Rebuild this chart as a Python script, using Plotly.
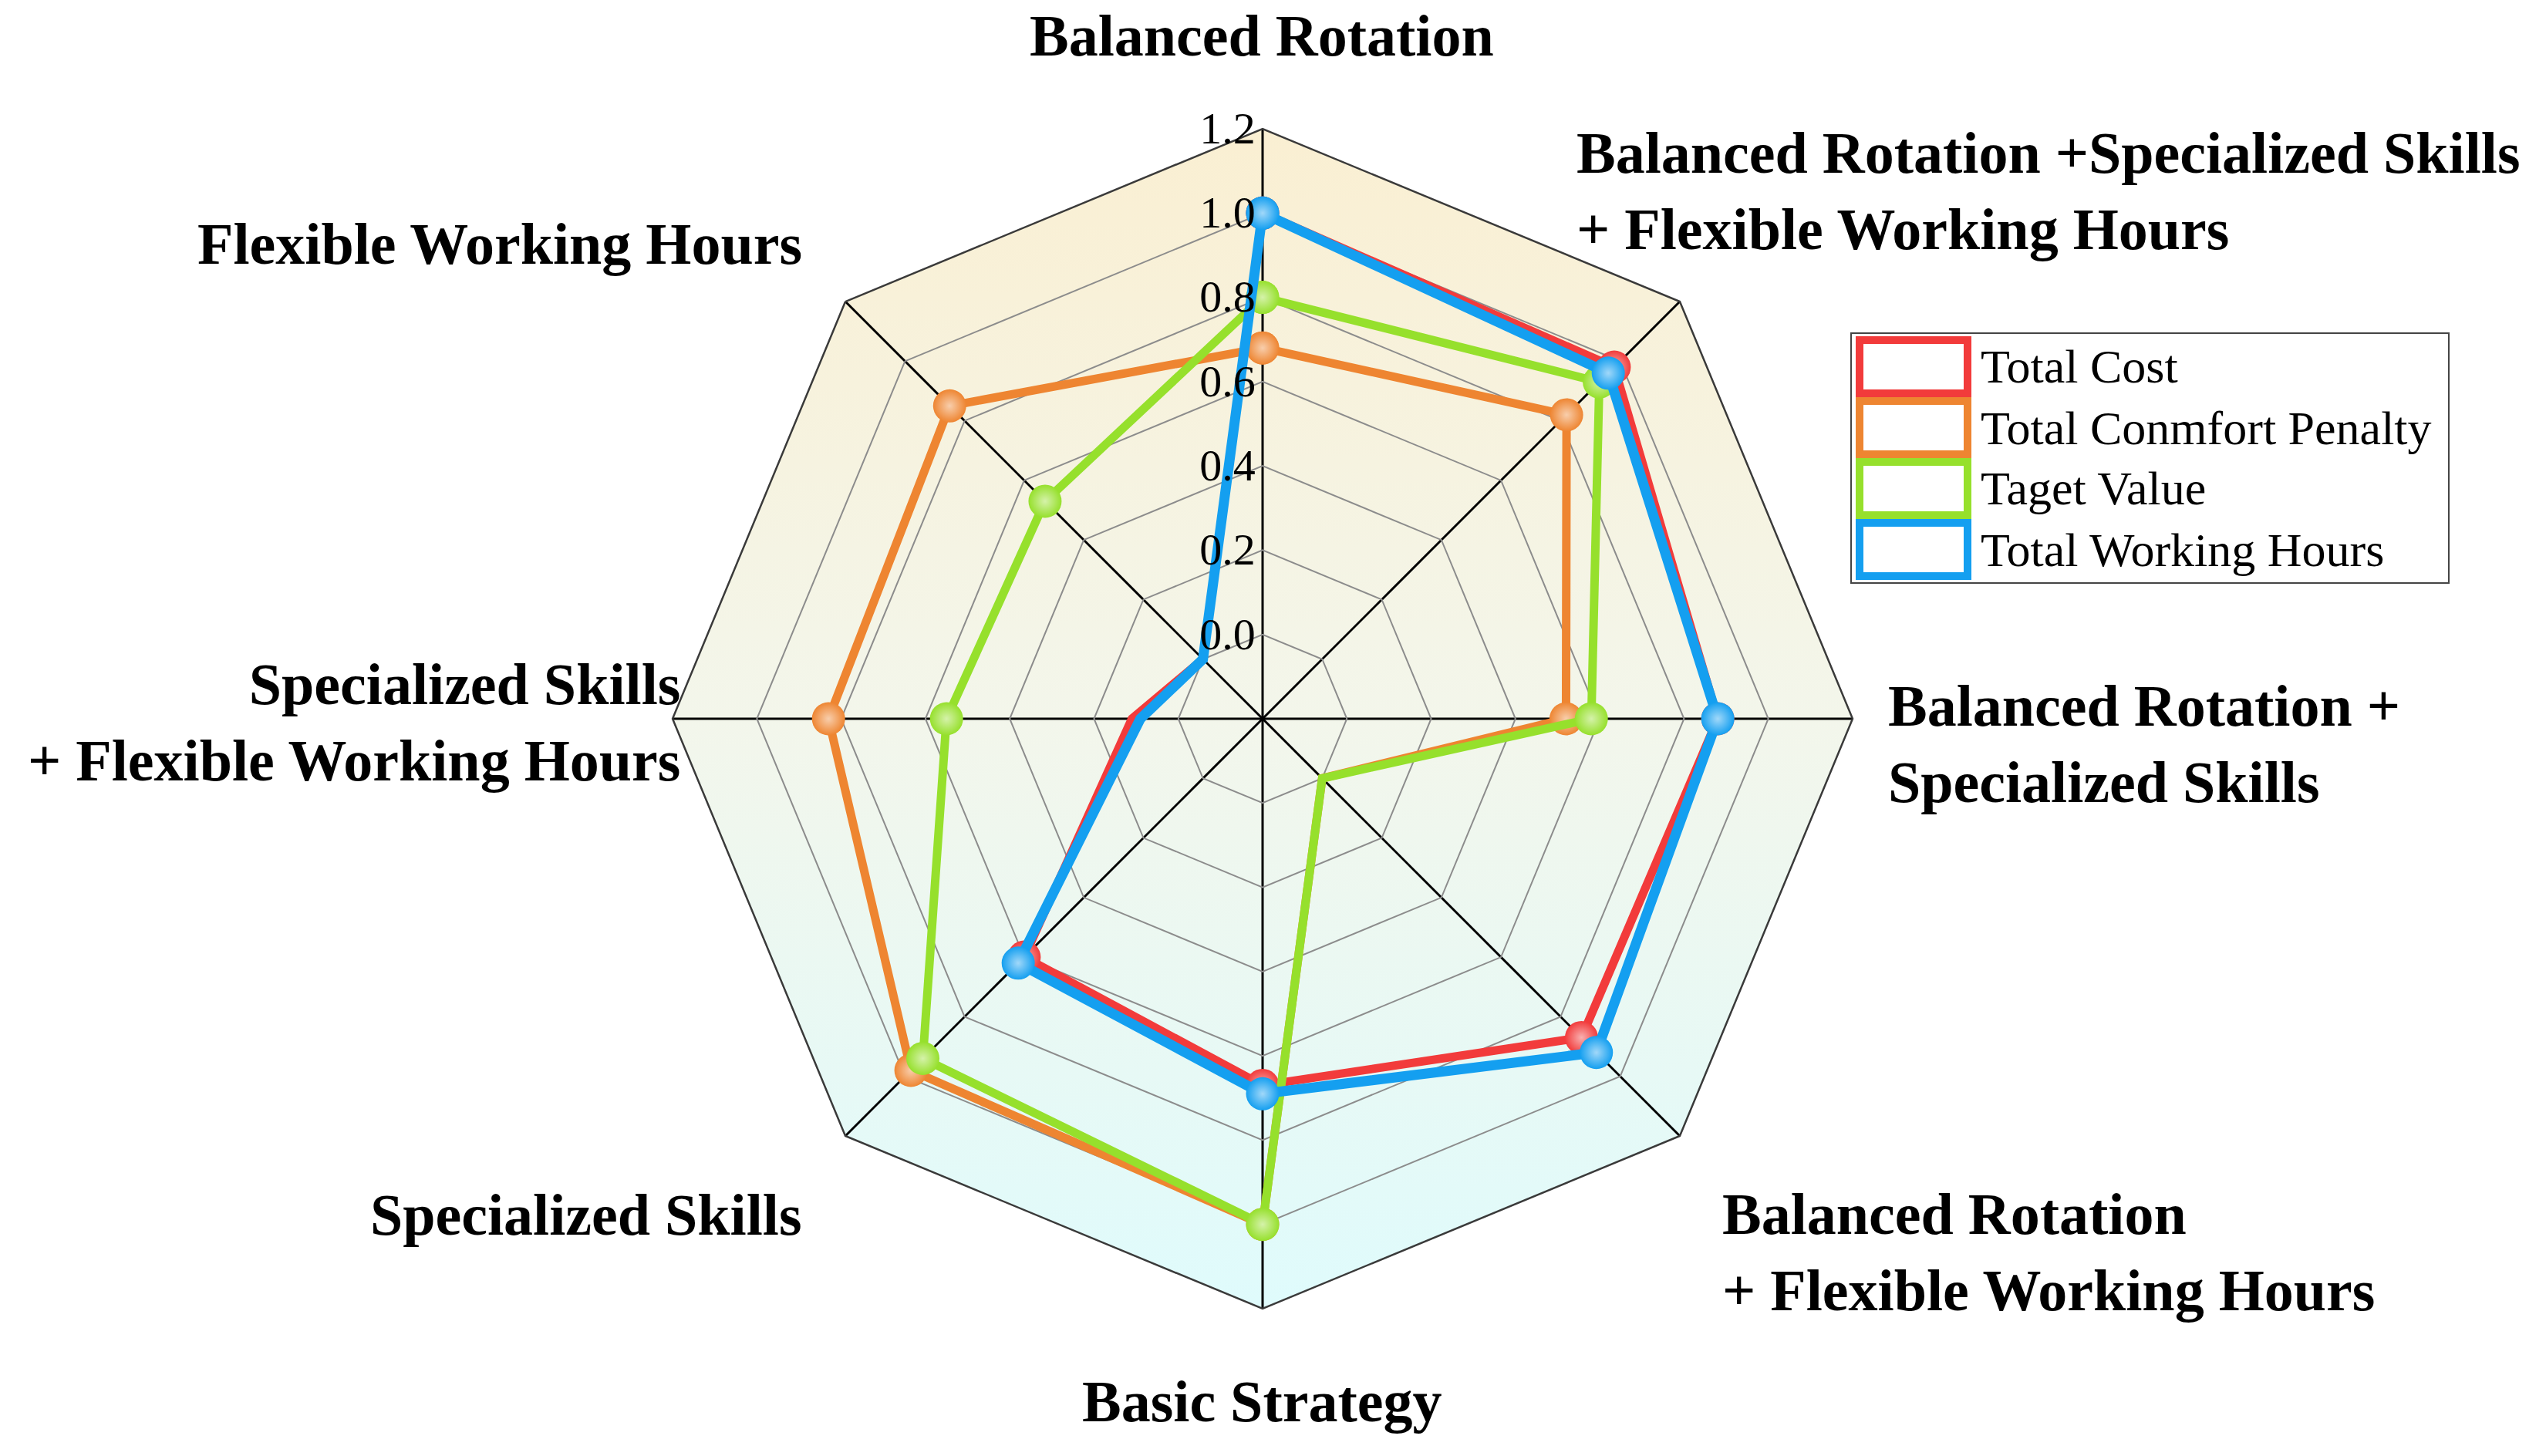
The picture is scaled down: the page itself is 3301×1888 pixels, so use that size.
import base64
import math
import plotly.graph_objects as go

# ---------------- data ----------------
categories = [
    "Balanced Rotation",
    "Balanced Rotation +Specialized Skills<br>+ Flexible Working Hours",
    "Balanced Rotation +<br>Specialized Skills",
    "Balanced Rotation<br>+ Flexible Working Hours",
    "Basic Strategy",
    "Specialized Skills",
    "Specialized Skills<br>+ Flexible Working Hours",
    "Flexible Working Hours",
]
series_names = ["Total Cost", "Total Conmfort Penalty", "Taget Value", "Total Working Hours"]
total_cost = [1.00, 0.98, 0.88, 0.87, 0.67, 0.60, 0.11, 0.00]
comfort_penalty = [0.68, 0.82, 0.52, 0.00, 1.00, 0.98, 0.83, 0.85]
target_value = [0.80, 0.93, 0.58, 0.00, 1.00, 0.94, 0.55, 0.53]
working_hours = [1.00, 0.96, 0.88, 0.92, 0.69, 0.62, 0.09, 0.00]
radial_ticks = [0.0, 0.2, 0.4, 0.6, 0.8, 1.0, 1.2]
radial_range = [-0.2, 1.2]

series_values = [total_cost, comfort_penalty, target_value, working_hours]

# ---------------- styles ----------------
W, H = 3301, 1888
colors = ["#F23B3B", "#EE8531", "#96E02C", "#149FF0"]
line_widths = [11, 11, 11, 13]


def lighten(hex_color, f):
    h = hex_color.lstrip("#")
    r, g, b = (int(h[i:i + 2], 16) for i in (0, 2, 4))
    r = int(r + (255 - r) * f)
    g = int(g + (255 - g) * f)
    b = int(b + (255 - b) * f)
    return f"#{r:02X}{g:02X}{b:02X}"


def px_x(x):
    return x / W


def px_y(y):
    return 1 - y / H


# polar area geometry (pixels)
cx, cy, R = 1637, 932, 765
dom_x = [px_x(cx - R), px_x(cx + R)]
dom_y = [px_y(cy + R), px_y(cy - R)]

fig = go.Figure()

# background gradient octagon (drawn as an SVG image behind the polar area)
n = len(categories)
pts = []
for k in range(n):
    ang = math.radians(90 - 360 * k / n)
    pts.append(f"{math.cos(ang):.5f},{-math.sin(ang):.5f}")
svg = (
    "<svg xmlns='http://www.w3.org/2000/svg' width='1000' height='1000' "
    "viewBox='-1 -1 2 2' preserveAspectRatio='none'>"
    "<defs><linearGradient id='g' x1='0' y1='0' x2='0' y2='1'>"
    "<stop offset='0' stop-color='#FAEFD2'/>"
    "<stop offset='0.5' stop-color='#F3F6EB'/>"
    "<stop offset='1' stop-color='#DFFBFC'/>"
    "</linearGradient></defs>"
    f"<polygon points='{' '.join(pts)}' fill='url(#g)'/></svg>"
)
svg_uri = "data:image/svg+xml;base64," + base64.b64encode(svg.encode()).decode()

for name, vals, col, lw in zip(series_names, series_values, colors, line_widths):
    fig.add_trace(
        go.Scatterpolar(
            r=vals + vals[:1],
            theta=categories + categories[:1],
            name=name,
            mode="lines+markers",
            line=dict(color=col, width=lw),
            marker=dict(
                size=43,
                color=col,
                gradient=dict(type="radial", color=lighten(col, 0.6)),
                line=dict(width=0),
            ),
            showlegend=False,
        )
    )

fig.update_layout(
    width=W,
    height=H,
    margin=dict(l=0, r=0, t=0, b=0),
    paper_bgcolor="white",
    plot_bgcolor="white",
    images=[
        dict(
            source=svg_uri,
            xref="paper",
            yref="paper",
            x=dom_x[0],
            y=dom_y[1],
            sizex=dom_x[1] - dom_x[0],
            sizey=dom_y[1] - dom_y[0],
            xanchor="left",
            yanchor="top",
            sizing="stretch",
            layer="below",
        )
    ],
    polar=dict(
        domain=dict(x=dom_x, y=dom_y),
        bgcolor="rgba(0,0,0,0)",
        gridshape="linear",
        radialaxis=dict(
            range=radial_range,
            tickvals=radial_ticks,
            ticktext=[f"{v:.1f}" for v in radial_ticks],
            angle=90,
            tickangle=90,
            side="counterclockwise",
            showline=False,
            ticks="",
            gridcolor="#8C8C8C",
            gridwidth=1.5,
            tickfont=dict(family="Liberation Serif", size=58, color="black"),
        ),
        angularaxis=dict(
            direction="clockwise",
            rotation=90,
            categoryorder="array",
            categoryarray=categories,
            showticklabels=False,
            ticks="",
            gridcolor="black",
            gridwidth=2.5,
            linecolor="#3A3A3A",
            linewidth=2.5,
        ),
    ),
)

# category labels
label_pos = [
    (1636, 46, "center", "center"),
    (2042, 247, "left", "left"),
    (2446, 964, "left", "left"),
    (2231, 1623, "left", "left"),
    (1636, 1817, "center", "center"),
    (1042, 1575, "right", "right"),
    (884, 936, "right", "right"),
    (1042, 316, "right", "right"),
]
for cat, (x, y, xa, al) in zip(categories, label_pos):
    fig.add_annotation(
        x=px_x(x), y=px_y(y), xref="paper", yref="paper",
        text=cat, showarrow=False, xanchor=xa, yanchor="middle", align=al,
        font=dict(family="Liberation Serif", size=76, color="black", weight="bold"),
    )

# legend box
lg_x0, lg_y0, lg_x1, lg_y1 = 2400, 432, 3175, 756
fig.add_shape(type="rect", xref="paper", yref="paper",
              x0=px_x(lg_x0), x1=px_x(lg_x1), y0=px_y(lg_y1), y1=px_y(lg_y0),
              line=dict(color="#444444", width=2), fillcolor="white", layer="above")
item_h = (lg_y1 - lg_y0 - 8) / len(series_names)
for i, (name, col) in enumerate(zip(series_names, colors)):
    yc = lg_y0 + 4 + item_h * (i + 0.5)
    fig.add_shape(type="rect", xref="paper", yref="paper",
                  x0=px_x(2411), x1=px_x(2551),
                  y0=px_y(yc + item_h / 2 - 5), y1=px_y(yc - item_h / 2 + 5),
                  line=dict(color=col, width=10), fillcolor="white", layer="above")
    fig.add_annotation(
        x=px_x(2566), y=px_y(yc), xref="paper", yref="paper",
        text=name, showarrow=False, xanchor="left", yanchor="middle",
        font=dict(family="Liberation Serif", size=62, color="black"),
    )

fig.write_html("out.html", config={"displayModeBar": False},
               post_script="document.body.style.margin='0';")
